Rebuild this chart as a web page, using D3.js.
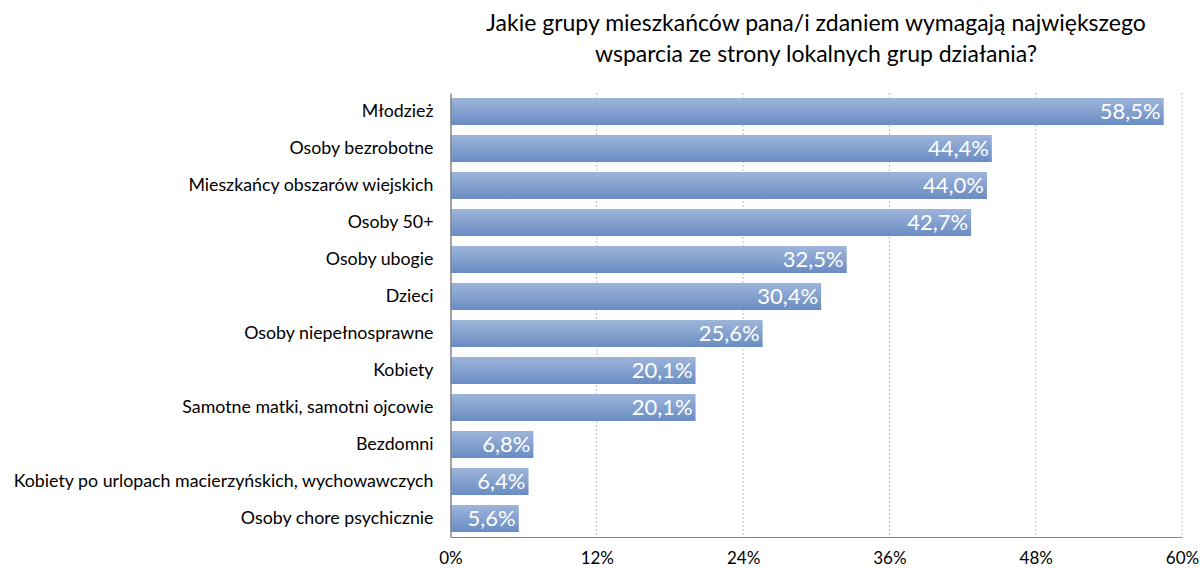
<!DOCTYPE html>
<html><head><meta charset="utf-8">
<script src="https://cdn.jsdelivr.net/npm/d3@7"></script>
<style>body{margin:0;background:#fff}svg{display:block}</style>
</head><body><svg id="c" width="1200" height="568"></svg>
<script>
const categories = ["Młodzież","Osoby bezrobotne","Mieszkańcy obszarów wiejskich","Osoby 50+","Osoby ubogie","Dzieci","Osoby niepełnosprawne","Kobiety","Samotne matki, samotni ojcowie","Bezdomni","Kobiety po urlopach macierzyńskich, wychowawczych","Osoby chore psychicznie"];
const values = [58.5,44.4,44.0,42.7,32.5,30.4,25.6,20.1,20.1,6.8,6.4,5.6];
const ticks = [0,12,24,36,48,60];
const titleLines = ["Jakie grupy mieszkańców pana/i zdaniem wymagają największego","wsparcia ze strony lokalnych grup działania?"];

const svg = d3.select("#c");
const font = "Lato, 'Open Sans', sans-serif";
const m = {left:450.5, right:1182, top:93, bottom:537};
const x = d3.scaleLinear().domain([0,60]).range([m.left,m.right]);
const y = d3.scaleBand().domain(categories).range([m.top,m.bottom]).paddingInner(0.27).paddingOuter(0.135);

const defs = svg.append("defs");
const g = defs.append("linearGradient").attr("id","bg").attr("x1",0).attr("y1",0).attr("x2",0).attr("y2",1);
g.append("stop").attr("offset","0%").attr("stop-color","#9db5da");
g.append("stop").attr("offset","100%").attr("stop-color","#6a8cc3");

svg.append("g").selectAll("text").data(titleLines).join("text")
  .attr("x",816).attr("y",(d,i)=>31+i*31).attr("text-anchor","middle")
  .attr("font-family",font).attr("font-size",23).attr("fill","#000").text(d=>d);

// gridlines
svg.append("g").selectAll("line").data(ticks.filter(t=>t>0)).join("line")
  .attr("x1",d=>x(d)).attr("x2",d=>x(d)).attr("y1",m.top).attr("y2",m.bottom)
  .attr("stroke","#bdbdbd").attr("stroke-width",1).attr("stroke-dasharray","2,2");

// bars
svg.append("g").selectAll("rect").data(values).join("rect")
  .attr("x",x(0)).attr("y",(d,i)=>y(categories[i])).attr("width",d=>x(d)-x(0))
  .attr("height",y.bandwidth()).attr("fill","url(#bg)");

// value labels
svg.append("g").selectAll("text").data(values).join("text")
  .attr("x",d=>x(d)-3).attr("y",(d,i)=>y(categories[i])+y.bandwidth()/2+7.5)
  .attr("text-anchor","end").attr("font-family",font).attr("font-size",22).attr("fill","#fff")
  .text(d=>d.toFixed(1).replace(".",",")+"%");

// axes
const xa = svg.append("g").attr("transform",`translate(0,${m.bottom})`)
  .call(d3.axisBottom(x).tickValues(ticks).tickSize(0).tickFormat(d=>d+"%"));
xa.select(".domain").attr("stroke","#868686");
xa.selectAll("text").attr("font-family",font).attr("font-size",17).attr("fill","#000").attr("dy",0).attr("y",27);

const ya = svg.append("g").attr("transform",`translate(${m.left},0)`)
  .call(d3.axisLeft(y).tickSize(0).tickPadding(17));
ya.select(".domain").attr("stroke","#868686").attr("stroke-width",1.5);
ya.selectAll("text").attr("font-family",font).attr("font-size",17.8).attr("fill","#000");
</script></body></html>
